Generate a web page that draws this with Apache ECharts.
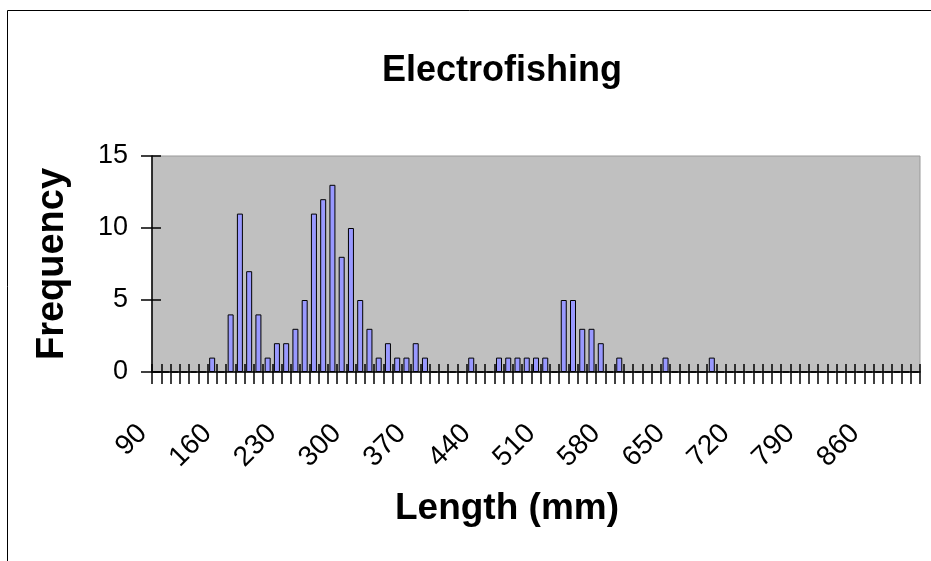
<!DOCTYPE html>
<html>
<head>
<meta charset="utf-8">
<script src="https://cdn.jsdelivr.net/npm/echarts@6/dist/echarts.min.js"></script>
<style>
  html, body { margin: 0; padding: 0; background: #fff; }
  #main { width: 931px; height: 561px; }
</style>
</head>
<body>
<div id="main"></div>
<script>
// length bins (mm), one category each
const lengths = [
  90, 100, 110, 120, 130, 140, 150, 160, 170, 180,
  190, 200, 210, 220, 230, 240, 250, 260, 270, 280,
  290, 300, 310, 320, 330, 340, 350, 360, 370, 380,
  390, 400, 410, 420, 430, 440, 450, 460, 470, 480,
  490, 500, 510, 520, 530, 540, 550, 560, 570, 580,
  590, 600, 610, 620, 630, 640, 650, 660, 670, 680,
  690, 700, 710, 720, 730, 740, 750, 760, 770, 780,
  790, 800, 810, 820, 830, 840, 850, 860, 870, 880,
  890, 900, 910
];

// fish counted in each bin
const frequency = [
  0, 0, 0, 0, 0, 0, 1, 0, 4, 11,
  7, 4, 1, 2, 2, 3, 5, 11, 12, 13,
  8, 10, 5, 3, 1, 2, 1, 1, 2, 1,
  0, 0, 0, 0, 1, 0, 0, 1, 1, 1,
  1, 1, 1, 0, 5, 5, 3, 3, 2, 0,
  1, 0, 0, 0, 0, 1, 0, 0, 0, 0,
  1, 0, 0, 0, 0, 0, 0, 0, 0, 0,
  0, 0, 0, 0, 0, 0, 0, 0, 0, 0,
  0, 0, 0
];

const yTicks = { min: 0, max: 15, interval: 5 };

const font = "'Liberation Sans', Arial, sans-serif";
const chart = echarts.init(document.getElementById("main"));

chart.setOption({
  animation: false,
  backgroundColor: "#fff",
  textStyle: { fontFamily: font },
  graphic: [
    {
      type: "rect",
      left: 5,
      top: 8,
      shape: { width: 1000, height: 700 },
      style: { fill: "none", stroke: "#000", lineWidth: 1 },
      silent: true,
    },
  ],
  title: {
    text: "Electrofishing",
    left: 502,
    top: 53,
    textAlign: "center",
    padding: 0,
    textStyle: { fontFamily: font, fontSize: 36, fontWeight: "bold", color: "#000" },
  },
  grid: {
    left: 152,
    top: 156,
    right: 11,
    bottom: 189,
    show: true,
    backgroundColor: "#c0c0c0",
    borderColor: "#999",
    borderWidth: 1,
  },
  xAxis: [
    {
      type: "category",
      position: "bottom",
      data: lengths,
      name: "Length (mm)",
      nameLocation: "middle",
      nameGap: 118,
      nameTextStyle: {
        fontFamily: font,
        fontSize: 37,
        fontWeight: "bold",
        color: "#000",
        padding: [0, 58, 0, 0],
      },
      axisLine: { show: true, lineStyle: { color: "#000", width: 1.5 } },
      axisTick: {
        show: true,
        interval: 0,
        alignWithLabel: false,
        length: 12,
        lineStyle: { color: "#000", width: 1.5 },
      },
      axisLabel: {
        interval: 6,
        rotate: 45,
        margin: 43,
        fontSize: 28,
        color: "#000",
        fontFamily: font,
        padding: [0, 20, 0, 0],
      },
      splitLine: { show: false },
    },
    {
      // inner half of the crossing tick marks
      type: "category",
      position: "bottom",
      data: lengths,
      axisLine: { show: false },
      axisTick: {
        show: true,
        interval: 0,
        inside: true,
        length: 8,
        lineStyle: { color: "#000", width: 1.5 },
      },
      axisLabel: { show: false },
      splitLine: { show: false },
    },
  ],
  yAxis: [
    {
      type: "value",
      position: "left",
      min: yTicks.min,
      max: yTicks.max,
      interval: yTicks.interval,
      name: "Frequency",
      nameLocation: "middle",
      nameGap: 80,
      nameTextStyle: { fontFamily: font, fontSize: 38, fontWeight: "bold", color: "#000" },
      axisLine: { show: true, lineStyle: { color: "#000", width: 1.5 } },
      axisTick: { show: true, length: 11, lineStyle: { color: "#000", width: 1.5 } },
      axisLabel: { fontSize: 27, margin: 24, color: "#000", fontFamily: font },
      splitLine: { show: false },
    },
    {
      type: "value",
      position: "left",
      min: yTicks.min,
      max: yTicks.max,
      interval: yTicks.interval,
      axisLine: { show: false },
      axisTick: { show: true, inside: true, length: 9, lineStyle: { color: "#000", width: 1.5 } },
      axisLabel: { show: false },
      splitLine: { show: false },
    },
  ],
  series: [
    {
      type: "bar",
      data: frequency,
      xAxisIndex: 0,
      yAxisIndex: 0,
      barWidth: 6,
      itemStyle: { color: "#9999ff", borderColor: "#000", borderWidth: 1 },
    },
  ],
});
</script>
</body>
</html>
